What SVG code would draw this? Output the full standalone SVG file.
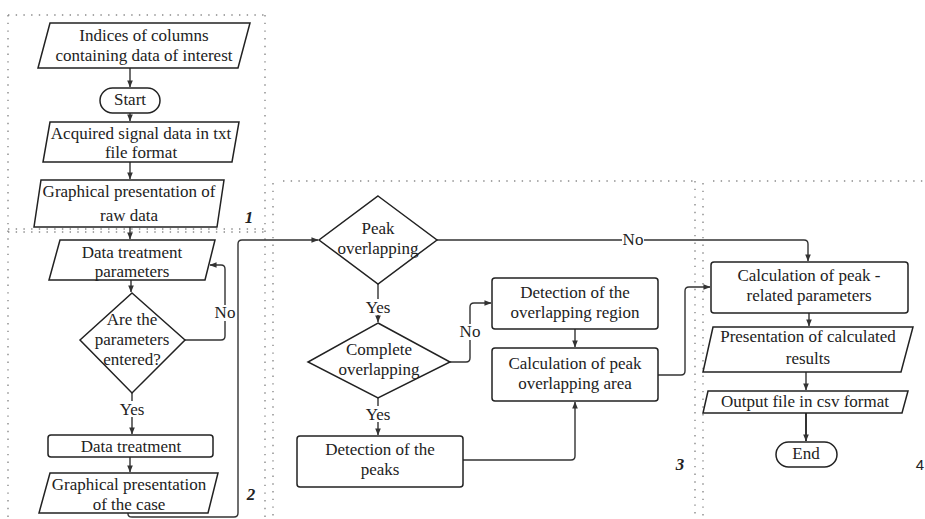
<svg xmlns="http://www.w3.org/2000/svg" width="925" height="519" viewBox="0 0 925 519">
<style>
.bg{fill:#fff}
.shape{fill:#fff;stroke:#222;stroke-width:1.5}
.dot{fill:none;stroke:#8a8a8a;stroke-width:1.4;stroke-dasharray:1.4 6.3}
.con{fill:none;stroke:#333;stroke-width:1.4}
.t{font-family:"Liberation Serif","Times New Roman",serif;font-size:17px;fill:#222;text-anchor:middle}
.num{font-family:"Liberation Serif","Times New Roman",serif;font-size:17px;font-weight:bold;font-style:italic;fill:#222;text-anchor:middle}
.lbl{fill:#fff}
</style>
<defs>
<marker id="ah" viewBox="0 0 8 8" refX="7.5" refY="4" markerWidth="7" markerHeight="7" markerUnits="userSpaceOnUse" orient="auto">
<path d="M0,0.8 L8,4 L0,7.2 Z" fill="#333"/>
</marker>
</defs>
<rect class="bg" x="0" y="0" width="925" height="519"/>

<g id="sections">
<line class="dot" x1="8" y1="15" x2="265" y2="15"/>
<line class="dot" x1="8" y1="15" x2="8" y2="519"/>
<line class="dot" x1="8" y1="229" x2="265" y2="229"/>
<line class="dot" x1="8" y1="232" x2="265" y2="232"/>
<line class="dot" x1="265" y1="15" x2="265" y2="519"/>
<line class="dot" x1="283" y1="181" x2="695" y2="181"/>
<line class="dot" x1="273" y1="183" x2="273" y2="519"/>
<line class="dot" x1="695" y1="181" x2="695" y2="519"/>
<line class="dot" x1="713" y1="181" x2="925" y2="181"/>
<line class="dot" x1="703" y1="183" x2="703" y2="519"/>
<text class="num" x="249" y="223">1</text>
<text class="num" x="251" y="500">2</text>
<text class="num" x="680" y="470">3</text>
<text x="920" y="470" style="font-family:'Liberation Sans',Arial,sans-serif;font-size:15px;fill:#222;text-anchor:middle">4</text>
</g>

<g id="connectors">
<path class="con" d="M130,68 V87" marker-end="url(#ah)"/>
<path class="con" d="M130,113 V121" marker-end="url(#ah)"/>
<path class="con" d="M130,162 V179" marker-end="url(#ah)"/>
<path class="con" d="M130,227 V239" marker-end="url(#ah)"/>
<path class="con" d="M131,280 V292" marker-end="url(#ah)"/>
<path class="con" d="M185,340 H221 Q225,340 225,336 V269 Q225,265 221,265 H210" marker-end="url(#ah)"/>
<path class="con" d="M132,393 V434" marker-end="url(#ah)"/>
<path class="con" d="M130,457 V472" marker-end="url(#ah)"/>
<path class="con" d="M128,513 V514 Q128,517 132,517 H234 Q238,517 238,513 V244 Q238,240 242,240 H318" marker-end="url(#ah)"/>
<path class="con" d="M378,284 V322" marker-end="url(#ah)"/>
<path class="con" d="M437,240 H804 Q808,240 808,244 V261" marker-end="url(#ah)"/>
<path class="con" d="M450,362 H466 Q470,362 470,358 V307 Q470,303 474,303 H491" marker-end="url(#ah)"/>
<path class="con" d="M378,398 V435" marker-end="url(#ah)"/>
<path class="con" d="M463,460 H571 Q575,460 575,456 V402" marker-end="url(#ah)"/>
<path class="con" d="M575,329 V347" marker-end="url(#ah)"/>
<path class="con" d="M658,375 H681 Q685,375 685,371 V291 Q685,287 689,287 H710" marker-end="url(#ah)"/>
<path class="con" d="M809,313 V326" marker-end="url(#ah)"/>
<path class="con" d="M806,372 V390" marker-end="url(#ah)"/>
<path class="con" d="M806,413 V441" style="stroke-width:2" marker-end="url(#ah)"/>
<rect class="lbl" x="214" y="305" width="22" height="16"/>
<text class="t" x="225" y="318">No</text>
<rect class="lbl" x="118" y="401" width="28" height="16"/>
<text class="t" x="132" y="415">Yes</text>
<rect class="lbl" x="364" y="299" width="28" height="16"/>
<text class="t" x="378" y="313">Yes</text>
<rect class="lbl" x="622" y="232" width="22" height="15"/>
<text class="t" x="633" y="245">No</text>
<rect class="lbl" x="459" y="324" width="22" height="16"/>
<text class="t" x="470" y="337">No</text>
<rect class="lbl" x="364" y="406" width="28" height="16"/>
<text class="t" x="378" y="420">Yes</text>
</g>

<g id="indices">
<polygon class="shape" points="50,23 250,23 238,68 38,68"/>
<text class="t" x="144" y="41">Indices of columns</text>
<text class="t" x="144" y="61">containing data of interest</text>
</g>
<g id="start">
<rect class="shape" x="100" y="88" width="60" height="25" rx="12.5"/>
<text class="t" x="130" y="105">Start</text>
</g>
<g id="acquired">
<polygon class="shape" points="50,122 239,122 232,162 43,162"/>
<text class="t" x="141" y="139">Acquired signal data in txt</text>
<text class="t" x="141" y="158">file format</text>
</g>
<g id="raw">
<polygon class="shape" points="41,180 224,180 217,227 34,227"/>
<text class="t" x="129" y="197">Graphical presentation of</text>
<text class="t" x="129" y="221">raw data</text>
</g>
<g id="params">
<polygon class="shape" points="60,240 215,240 205,280 49,280"/>
<text class="t" x="132" y="258">Data treatment</text>
<text class="t" x="132" y="277">parameters</text>
</g>
<g id="entered">
<polygon class="shape" points="132,293 185,340 132,393 80,340"/>
<text class="t" x="132" y="325">Are the</text>
<text class="t" x="132" y="345">parameters</text>
<text class="t" x="132" y="365">entered?</text>
</g>
<g id="treatment">
<rect class="shape" x="48" y="435" width="165" height="22" rx="3"/>
<text class="t" x="131" y="452">Data treatment</text>
</g>
<g id="case">
<polygon class="shape" points="50,473 218,473 208,513 39,513"/>
<text class="t" x="129" y="490">Graphical presentation</text>
<text class="t" x="129" y="510">of the case</text>
</g>
<g id="peak">
<polygon class="shape" points="378,196 437,240 378,284 319,240"/>
<text class="t" x="378" y="234">Peak</text>
<text class="t" x="378" y="254">overlapping</text>
</g>
<g id="complete">
<polygon class="shape" points="378,323 450,362 378,398 308,362"/>
<text class="t" x="379" y="355">Complete</text>
<text class="t" x="379" y="375">overlapping</text>
</g>
<g id="peaks">
<rect class="shape" x="297" y="436" width="166" height="51" rx="3"/>
<text class="t" x="380" y="455">Detection of the</text>
<text class="t" x="380" y="475">peaks</text>
</g>
<g id="region">
<rect class="shape" x="492" y="278" width="166" height="51" rx="3"/>
<text class="t" x="575" y="298">Detection of the</text>
<text class="t" x="575" y="318">overlapping region</text>
</g>
<g id="area">
<rect class="shape" x="492" y="348" width="166" height="53" rx="3"/>
<text class="t" x="575" y="369">Calculation of peak</text>
<text class="t" x="575" y="389">overlapping area</text>
</g>
<g id="related">
<rect class="shape" x="711" y="262" width="197" height="51" rx="3"/>
<text class="t" x="809" y="281">Calculation of peak -</text>
<text class="t" x="809" y="301">related parameters</text>
</g>
<g id="presentation">
<polygon class="shape" points="713,327 913,327 901,372 703,372"/>
<text class="t" x="808" y="342">Presentation of calculated</text>
<text class="t" x="808" y="364">results</text>
</g>
<g id="output">
<polygon class="shape" points="708,391 908,391 902,413 703,413"/>
<text class="t" x="805" y="407">Output file in csv format</text>
</g>
<g id="end">
<rect class="shape" x="776" y="442" width="61" height="25" rx="12.5"/>
<text class="t" x="806" y="459">End</text>
</g>
</svg>
